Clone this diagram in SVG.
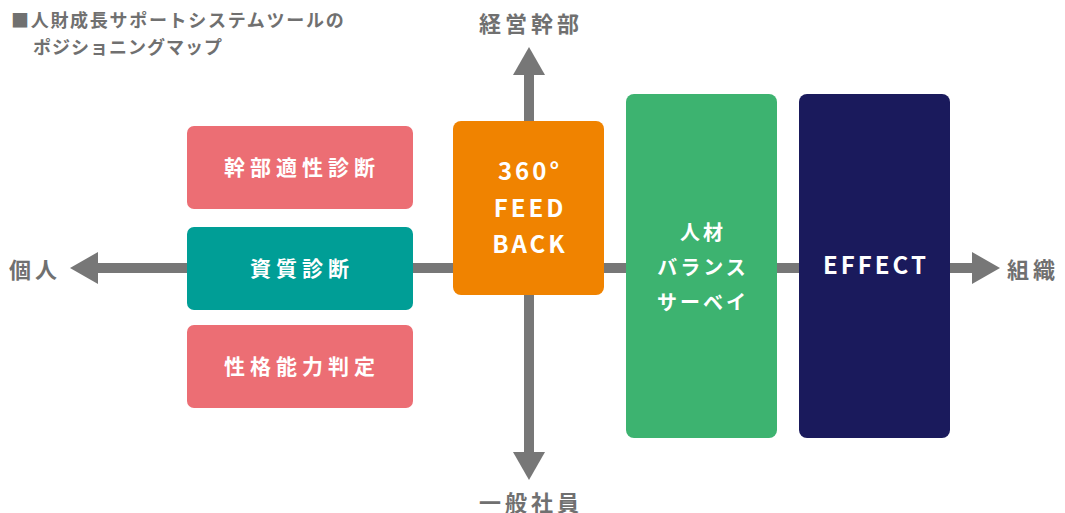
<svg xmlns="http://www.w3.org/2000/svg" width="1065" height="513" viewBox="0 0 1065 513">
<style>
.ax{fill:#777777}
.lbl{font-family:"Noto Sans CJK JP","Noto Sans",sans-serif;font-weight:bold;fill:#707070;font-size:22px;letter-spacing:4px}
.t{font-family:"Noto Sans CJK JP","Noto Sans",sans-serif;font-weight:bold;fill:#ffffff;text-anchor:middle}
.title{font-family:"Noto Sans CJK JP","Noto Sans",sans-serif;font-weight:bold;fill:#707070;font-size:18px}
</style>
<rect width="1065" height="513" fill="#ffffff"/>
<g id="title">
<text class="title" x="11" y="27" letter-spacing="1.7">■人財成長サポートシステムツールの</text>
<text class="title" x="33" y="54" letter-spacing="1">ポジショニングマップ</text>
</g>
<g id="connectors">
<rect class="ax" x="97" y="263" width="876" height="10"/>
<polygon class="ax" points="70,268 98,252 98,284"/>
<polygon class="ax" points="1000,268 972,252 972,284"/>
<rect class="ax" x="524" y="74" width="10" height="380"/>
<polygon class="ax" points="529,47 513,75 545,75"/>
<polygon class="ax" points="529,480 513,452 545,452"/>
</g>
<g id="axis-labels">
<text class="lbl" x="531" y="32" text-anchor="middle">経営幹部</text>
<text class="lbl" x="531" y="511" text-anchor="middle">一般社員</text>
<text class="lbl" x="9" y="278">個人</text>
<text class="lbl" x="1007" y="278">組織</text>
</g>
<g id="node-kanbu">
<rect x="187" y="126" width="226" height="83" rx="7" fill="#EC6E74"/>
<text class="t" x="302" y="175" font-size="21" letter-spacing="5">幹部適性診断</text>
</g>
<g id="node-shishitsu">
<rect x="187" y="227" width="226" height="83" rx="7" fill="#009E96"/>
<text class="t" x="302" y="276" font-size="21" letter-spacing="5">資質診断</text>
</g>
<g id="node-seikaku">
<rect x="187" y="325" width="226" height="83" rx="7" fill="#EC6E74"/>
<text class="t" x="302" y="374" font-size="21" letter-spacing="5">性格能力判定</text>
</g>
<g id="node-360">
<rect x="453" y="121" width="151" height="174" rx="8" fill="#F08300"/>
<text class="t" x="530" y="180" font-size="24" letter-spacing="3">360°</text>
<text class="t" x="530" y="217" font-size="24" letter-spacing="3">FEED</text>
<text class="t" x="530" y="253" font-size="24" letter-spacing="3">BACK</text>
</g>
<g id="node-balance">
<rect x="626" y="94" width="151" height="344" rx="8" fill="#3DB370"/>
<text class="t" x="703" y="240" font-size="20" letter-spacing="3">人材</text>
<text class="t" x="703" y="275" font-size="20" letter-spacing="3">バランス</text>
<text class="t" x="703" y="310" font-size="20" letter-spacing="3">サーベイ</text>
</g>
<g id="node-effect">
<rect x="799" y="94" width="151" height="344" rx="8" fill="#1A1A5C"/>
<text class="t" x="876" y="274" font-size="24" letter-spacing="3">EFFECT</text>
</g>
</svg>
